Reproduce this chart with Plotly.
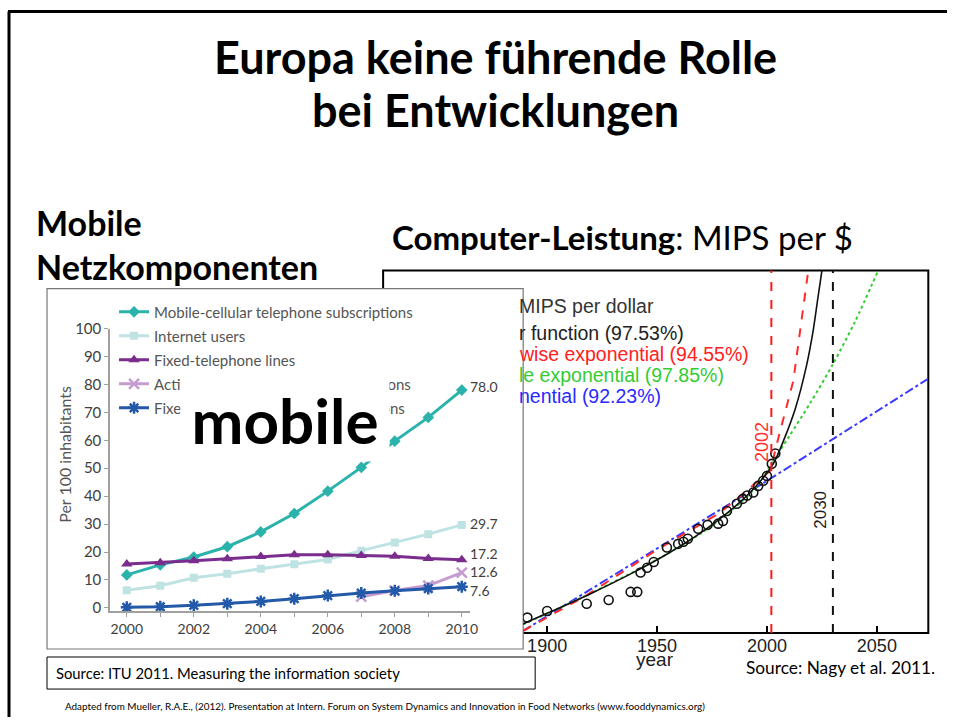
import plotly.graph_objects as go

W, H = 955, 722
# reference-pixel -> paper conversion (compensates the small offset/scale seen in the photographed page)
SX, OX, SY, OY = 0.9913, 0.0, 0.978, 9.8
def px(x): return ((x - OX) / SX) / W
def py(y): return 1 - ((y - OY) / SY) / H

# ---------------- Left chart data (ITU 2011, Europe, per 100 inhabitants) ----------------
itu_years = [2000, 2001, 2002, 2003, 2004, 2005, 2006, 2007, 2008, 2009, 2010]
itu_tick_labels = ["2000", "", "2002", "", "2004", "", "2006", "", "2008", "", "2010"]
mobile_cellular = [11.8, 15.4, 18.2, 21.9, 27.2, 33.8, 41.8, 50.3, 59.7, 68.2, 78.0]
internet_users = [6.3, 7.9, 10.8, 12.2, 14.0, 15.6, 17.3, 20.5, 23.4, 26.4, 29.7]
fixed_telephone = [15.7, 16.2, 16.9, 17.6, 18.4, 19.0, 19.0, 18.8, 18.5, 17.7, 17.2]
active_mob_bb_years = [2007, 2008, 2009, 2010]
active_mobile_bb = [4.0, 6.2, 8.0, 12.6]
fixed_broadband = [0.2, 0.4, 0.9, 1.5, 2.3, 3.3, 4.4, 5.3, 6.1, 6.9, 7.6]
end_labels = ["78.0", "29.7", "17.2", "12.6", "7.6"]
legend_names = ["Mobile-cellular telephone subscriptions", "Internet users",
                "Fixed-telephone lines", "Active mobile-broadband subscriptions",
                "Fixed (wired)-broadband subscriptions"]

# ---------------- Right chart data (Nagy et al. 2011, MIPS per $; log10 values) ----------------
mips_years = [1891, 1900, 1918, 1928, 1938, 1941, 1942.5, 1945.5, 1948.5, 1954.5, 1959.6,
              1962, 1964, 1968.7, 1973, 1977.8, 1980, 1981.8, 1986.3, 1989, 1991, 1993.8,
              1996, 1998.3, 2000, 2002.2, 2003.8]
mips_log10 = [-6.49, -6.27, -6.03, -5.91, -5.64, -5.64, -5.00, -4.84, -4.65, -4.17, -4.05,
              -3.98, -3.88, -3.55, -3.42, -3.38, -3.29, -2.96, -2.72, -2.56, -2.45, -2.35,
              -2.13, -1.96, -1.80, -1.40, -1.06]
hyper_years = [1889, 1900, 1920, 1940, 1955, 1970, 1985, 1995, 2003, 2008, 2013, 2018, 2021,
               2023, 2025]
hyper_log10 = [-6.7, -6.35, -5.69, -4.97, -4.37, -3.68, -2.84, -2.14, -1.38, -0.55, 0.45,
               1.85, 3.0, 4.0, 5.0]
piece_years = [1889.1, 1918.2, 1949.2, 1978.7, 2001.5, 2005.1, 2012.0, 2018.8]
piece_log10 = [-6.93, -5.74, -4.28, -3.02, -1.63, -0.57, 1.35, 5.0]
double_years = [1889, 1918, 1950, 1970, 1985, 1995, 2002, 2010, 2020, 2030, 2040, 2050.2]
double_log10 = [-6.72, -5.75, -4.57, -3.7, -2.88, -2.17, -1.4, -0.5, 0.65, 1.9, 3.3, 4.93]
expo_years = [1889.1, 2000.1, 2073.4]
expo_log10 = [-6.93, -1.96, 1.42]
marker_years = [2002, 2030]
right_legend = [("MIPS per dollar", "#333333"),
                ("r function (97.53%)", "#222222"),
                ("wise exponential (94.55%)", "#ff2020"),
                ("le exponential (97.85%)", "#33cc33"),
                ("nential (92.23%)", "#2a2aff")]

def tolin(v):
    return [10 ** a for a in v]

fig = go.Figure()

# ---- Left chart traces
lw = 3
fig.add_trace(go.Scatter(x=itu_years, y=mobile_cellular, name=legend_names[0], mode="lines+markers",
                         line=dict(color="#2bb3ab", width=lw),
                         marker=dict(symbol="diamond", size=9, color="#2bb3ab"),
                         legendgroup="a", xaxis="x", yaxis="y"))
fig.add_trace(go.Scatter(x=itu_years, y=internet_users, name=legend_names[1], mode="lines+markers",
                         line=dict(color="#bfe3e3", width=lw),
                         marker=dict(symbol="square", size=8, color="#bfe3e3"),
                         legendgroup="b", xaxis="x", yaxis="y"))
fig.add_trace(go.Scatter(x=itu_years, y=fixed_telephone, name=legend_names[2], mode="lines+markers",
                         line=dict(color="#7b2d8d", width=lw),
                         marker=dict(symbol="triangle-up", size=10, color="#7b2d8d"),
                         legendgroup="c", xaxis="x", yaxis="y"))
fig.add_trace(go.Scatter(x=active_mob_bb_years, y=active_mobile_bb, name=legend_names[3],
                         mode="lines+markers",
                         line=dict(color="#c69bd0", width=lw),
                         marker=dict(symbol="x-thin-open", size=10, color="#c69bd0",
                                     line=dict(width=2.5, color="#c69bd0")),
                         legendgroup="d", xaxis="x", yaxis="y"))
fig.add_trace(go.Scatter(x=itu_years, y=fixed_broadband, name=legend_names[4], mode="lines+markers",
                         line=dict(color="#2259a8", width=lw),
                         marker=dict(symbol="asterisk-open", size=10, color="#2259a8",
                                     line=dict(width=2.5, color="#2259a8")),
                         legendgroup="e", xaxis="x", yaxis="y"))

# ---- Right chart traces
fig.add_trace(go.Scatter(x=expo_years, y=tolin(expo_log10), mode="lines", showlegend=False,
                         line=dict(color="#3a3aff", width=2, dash="dashdot"), xaxis="x2", yaxis="y2"))
fig.add_trace(go.Scatter(x=double_years, y=tolin(double_log10), mode="lines", showlegend=False,
                         line=dict(color="#33cc33", width=2, dash="dot", shape="spline",
                                   smoothing=0.8),
                         xaxis="x2", yaxis="y2"))
fig.add_trace(go.Scatter(x=piece_years, y=tolin(piece_log10), mode="lines", showlegend=False,
                         line=dict(color="#ff2a2a", width=2, dash="dash"), xaxis="x2", yaxis="y2"))
fig.add_trace(go.Scatter(x=hyper_years, y=tolin(hyper_log10), mode="lines", showlegend=False,
                         line=dict(color="#111111", width=1.6, shape="spline", smoothing=0.8),
                         xaxis="x2", yaxis="y2"))
fig.add_trace(go.Scatter(x=mips_years, y=tolin(mips_log10), mode="markers", showlegend=False,
                         marker=dict(symbol="circle-open", size=9, color="#111111",
                                     line=dict(width=1.6)),
                         xaxis="x2", yaxis="y2"))

top_border = 1 - 1.5 / H
shapes = [
    dict(type="line", xref="paper", yref="paper", x0=px(9), x1=px(9), y0=top_border, y1=0,
         line=dict(color="black", width=3)),
    dict(type="line", xref="paper", yref="paper", x0=px(8), x1=1, y0=top_border, y1=top_border,
         line=dict(color="black", width=3)),
    dict(type="rect", xref="paper", yref="paper", x0=px(383), x1=px(928), y0=py(632), y1=py(270),
         line=dict(color="black", width=2), layer="below"),
    dict(type="rect", xref="paper", yref="paper", x0=px(47), x1=px(523), y0=py(648), y1=py(288),
         line=dict(color="#777777", width=1.2), fillcolor="white", layer="below"),
    dict(type="rect", xref="paper", yref="paper", x0=px(47), x1=px(535), y0=py(688), y1=py(656),
         line=dict(color="black", width=1)),
]
vcolors = ["#ff1a1a", "#111111"]
for yr, c in zip(marker_years, vcolors):
    shapes.append(dict(type="line", xref="x2", yref="paper", x0=yr, x1=yr, y0=py(632), y1=py(270),
                       line=dict(color=c, width=2, dash="dash")))

F = "Lato, 'Open Sans', sans-serif"
A = "'Liberation Sans', Arial, sans-serif"
ann = []
def A_(x, y, text, size, color="black", family=F, xanchor="center", yanchor="middle", **kw):
    d = dict(x=x, y=y, xref="paper", yref="paper", text=text, showarrow=False,
             font=dict(size=size, color=color, family=family), xanchor=xanchor, yanchor=yanchor)
    d.update(kw)
    ann.append(d)

A_(px(495), py(57), "<b>Europa keine führende Rolle</b>", 45)
A_(px(495), py(110), "<b>bei Entwicklungen</b>", 45)
A_(px(34), py(222), "<b>Mobile</b>", 34, xanchor="left")
A_(px(34), py(266), "<b>Netzkomponenten</b>", 34, xanchor="left")
A_(px(390), py(237), "<b>Computer-Leistung</b>: MIPS per $", 33, xanchor="left")

A_(px(65), py(454), "Per 100 inhabitants", 16, color="#555555", textangle=-90)

last_vals = [mobile_cellular[-1], internet_users[-1], fixed_telephone[-1], active_mobile_bb[-1],
             fixed_broadband[-1]]
yshifts = [4, 1, 6, 1, -4]
for lab, v, ys in zip(end_labels, last_vals, yshifts):
    ann.append(dict(x=itu_years[-1], y=v, xref="x", yref="y", text=lab, showarrow=False,
                    xanchor="left", yanchor="middle", xshift=6, yshift=ys,
                    font=dict(size=14, color="#404040", family=F)))

ry = [305, 332, 353, 374, 395]
for (t, c), yy in zip(right_legend, ry):
    A_(px(517), py(yy), t, 19.5, color=c, family=A, xanchor="left")

ann.append(dict(x=marker_years[0], y=py(441), xref="x2", yref="paper", text=str(marker_years[0]),
                showarrow=False, textangle=-90, xshift=-10, font=dict(size=18, color="#ff3030", family=A)))
ann.append(dict(x=marker_years[1], y=py(530), xref="x2", yref="paper", text=str(marker_years[1]),
                showarrow=False, textangle=-90, xshift=-12, font=dict(size=17, color="#222222", family=A)))
A_(px(655), py(658), "year", 19, color="#222222", family=A)

ann.append(dict(x=px(180), y=py(377), xref="paper", yref="paper", text="<b>mobile</b>",
                showarrow=False, xanchor="left", yanchor="top", width=208, height=82,
                bgcolor="white", borderpad=0, font=dict(size=62, color="black", family=F)))

A_(px(54), py(672), "Source: ITU 2011. Measuring the information society", 14.8, xanchor="left")
A_(px(937), py(666), "Source: Nagy et al. 2011.", 17.3, xanchor="right")
A_(px(385), py(705), "Adapted from Mueller, R.A.E., (2012). Presentation at Intern. Forum on System "
   "Dynamics and Innovation in Food Networks (www.fooddynamics.org)", 9.9)

fig.update_layout(
    width=W, height=H, margin=dict(l=0, r=0, t=0, b=0),
    paper_bgcolor="white", plot_bgcolor="rgba(0,0,0,0)",
    showlegend=True,
    legend=dict(x=px(114), y=py(295), xanchor="left", yanchor="top", bgcolor="rgba(0,0,0,0)",
                font=dict(size=15, color="#555555", family=F), itemwidth=30,
                tracegroupgap=1.5, traceorder="grouped"),
    xaxis=dict(domain=[px(110), px(470)], range=[1999.5, 2010.25], anchor="y",
               tickmode="array", tickvals=itu_years, ticktext=itu_tick_labels,
               showline=True, linecolor="#a0a0a0", linewidth=1.5, ticks="outside", ticklen=4,
               tickcolor="#a0a0a0", tickfont=dict(size=14, color="#404040", family=F),
               showgrid=False, zeroline=False),
    yaxis=dict(domain=[py(610), py(328)], range=[-1.1, 100], anchor="x", dtick=10,
               showline=True, linecolor="#a0a0a0", linewidth=1.5, ticks="outside", ticklen=4,
               tickcolor="#a0a0a0", tickfont=dict(size=15, color="#404040", family=F),
               showgrid=False, zeroline=False),
    xaxis2=dict(domain=[px(523), px(928)], range=[1889.1, 2073.4], anchor="y2",
                tickmode="array", tickvals=[1900, 1950, 2000, 2050], ticks="inside", ticklen=7,
                tickwidth=1.5, tickcolor="black", showline=False, showgrid=False, zeroline=False,
                tickfont=dict(size=18, color="#222222", family=A)),
    yaxis2=dict(domain=[py(632), py(270)], type="log", range=[-7, 5], anchor="x2", visible=False),
    shapes=shapes, annotations=ann,
)

post = """
var gd = document.getElementById('{plot_id}');
var hs = [document.documentElement, document.body];
for (var i = 0; i < hs.length; i++) {
  hs[i].style.margin = '0px'; hs[i].style.padding = '0px'; hs[i].style.overflow = 'hidden';
}
var p = gd.parentElement;
p.style.position = 'fixed'; p.style.left = '0px'; p.style.top = '0px';
p.style.width = '955px'; p.style.height = '722px';
"""
fig.write_html("out.html", post_script=post, config={"displayModeBar": False})
